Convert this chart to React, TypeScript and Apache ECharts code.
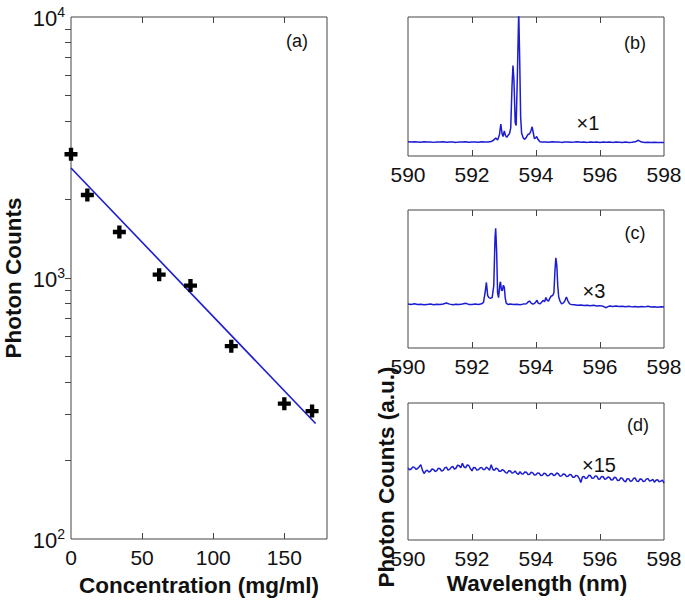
import React, { useEffect, useRef } from "react";
import * as echarts from "echarts";

// ---- Panel (a): photon counts vs concentration ----
const concentration = [0, 11.5, 34, 62, 84, 112.7, 150, 169.5];
const photonCounts = [2980, 2080, 1500, 1030, 935, 548, 330, 309];
const fitLine = [
  [0, 2640],
  [172, 277],
];
const xTicksA = [0, 50, 100, 150];
const yMinorTicksA = [200, 300, 400, 500, 600, 700, 800, 900, 1000, 2000, 3000, 4000, 5000, 6000, 7000, 8000, 9000];

// ---- Panels (b)-(d): spectra [wavelength nm, relative counts] ----
const spectrumB = [
  [590.0, 10.2], [590.1, 10.0], [590.2, 10.3], [590.3, 10.1], [590.4, 9.9], [590.5, 10.2], [590.6, 10.0],
  [590.7, 10.1], [590.8, 9.8], [590.9, 10.1], [591.0, 10.0], [591.1, 10.2], [591.2, 9.9], [591.3, 10.1],
  [591.4, 10.0], [591.5, 9.8], [591.6, 10.1], [591.7, 10.0], [591.8, 10.2], [591.9, 9.9], [592.0, 10.0],
  [592.1, 10.1], [592.2, 9.9], [592.3, 10.2], [592.4, 10.0], [592.5, 10.1], [592.6, 10.4], [592.68, 11.5],
  [592.74, 13.0], [592.8, 11.5], [592.86, 15.5], [592.9, 23.0], [592.94, 16.0], [592.97, 14.0],
  [593.01, 18.0], [593.05, 14.5], [593.09, 13.5], [593.13, 15.0], [593.17, 16.0], [593.21, 20.0],
  [593.25, 50.0], [593.28, 65.0], [593.31, 55.0], [593.35, 24.0], [593.38, 22.0], [593.42, 60.0],
  [593.46, 104.0], [593.49, 70.0], [593.52, 28.0], [593.55, 16.5], [593.6, 13.0], [593.65, 12.0],
  [593.7, 13.5], [593.75, 15.5], [593.8, 16.0], [593.84, 18.0], [593.88, 21.0], [593.92, 16.0],
  [593.95, 12.5], [593.99, 13.0], [594.02, 14.0], [594.06, 12.0], [594.12, 10.3], [594.2, 10.0],
  [594.3, 10.1], [594.4, 9.9], [594.5, 10.2], [594.6, 10.0], [594.7, 10.1], [594.8, 9.8], [594.9, 10.0],
  [595.0, 10.1], [595.1, 9.9], [595.2, 10.0], [595.3, 10.2], [595.4, 9.9], [595.5, 10.0], [595.6, 9.8],
  [595.7, 10.1], [595.8, 9.9], [595.9, 10.0], [596.0, 9.8], [596.1, 10.0], [596.2, 9.9], [596.3, 10.1],
  [596.4, 9.8], [596.5, 10.0], [596.6, 9.9], [596.7, 9.7], [596.8, 10.0], [596.9, 9.8], [597.0, 9.9],
  [597.1, 10.2], [597.2, 11.3], [597.3, 10.0], [597.4, 9.8], [597.5, 9.9], [597.6, 9.7], [597.7, 9.9],
  [597.8, 9.8], [597.9, 9.7], [598.0, 9.8],
];

const spectrumC = [
  [590.0, 31.8], [590.1, 31.6], [590.2, 32.0], [590.3, 31.5], [590.4, 31.7], [590.5, 31.3], [590.6, 31.6],
  [590.7, 31.9], [590.8, 31.4], [590.9, 31.7], [591.0, 31.5], [591.1, 31.9], [591.2, 32.6], [591.3, 31.8],
  [591.4, 31.4], [591.5, 31.7], [591.6, 31.5], [591.7, 31.9], [591.8, 32.4], [591.9, 31.6], [592.0, 31.5],
  [592.1, 31.8], [592.2, 31.6], [592.3, 32.0], [592.36, 33.0], [592.42, 42.0], [592.45, 47.5],
  [592.49, 38.0], [592.53, 36.5], [592.58, 36.0], [592.63, 36.5], [592.68, 45.0], [592.72, 80.0],
  [592.74, 86.7], [592.77, 70.0], [592.8, 40.0], [592.83, 36.5], [592.87, 46.0], [592.89, 48.0],
  [592.92, 42.0], [592.95, 41.5], [592.98, 45.5], [593.01, 44.0], [593.04, 36.0], [593.07, 32.5],
  [593.12, 31.6], [593.2, 31.8], [593.3, 31.5], [593.4, 31.7], [593.5, 31.4], [593.6, 31.8], [593.7, 32.0],
  [593.76, 33.5], [593.8, 34.0], [593.85, 32.5], [593.9, 31.8], [593.95, 32.2], [594.0, 33.5],
  [594.03, 34.6], [594.07, 32.5], [594.12, 32.0], [594.17, 33.0], [594.22, 34.5], [594.27, 33.5],
  [594.31, 36.6], [594.35, 34.5], [594.39, 34.0], [594.43, 36.0], [594.47, 37.5], [594.52, 38.0],
  [594.56, 40.0], [594.59, 55.0], [594.62, 65.4], [594.65, 60.0], [594.68, 45.0], [594.71, 37.0],
  [594.75, 34.0], [594.8, 32.0], [594.85, 32.5], [594.9, 34.0], [594.95, 37.0], [595.0, 34.0],
  [595.05, 32.0], [595.1, 31.6], [595.2, 31.3], [595.3, 31.0], [595.4, 31.2], [595.5, 30.8], [595.6, 31.0],
  [595.7, 30.6], [595.8, 30.9], [595.9, 30.5], [596.0, 30.7], [596.1, 30.2], [596.18, 29.2], [596.25, 30.0],
  [596.3, 30.4], [596.4, 30.1], [596.5, 30.5], [596.6, 30.0], [596.7, 30.3], [596.8, 29.9], [596.9, 30.2],
  [597.0, 29.8], [597.1, 30.1], [597.2, 29.7], [597.3, 30.0], [597.4, 29.8], [597.5, 30.2], [597.6, 29.7],
  [597.7, 29.9], [597.8, 29.6], [597.9, 29.9], [598.0, 29.7],
];

const spectrumD = [
  [590.0, 52.5], [590.05, 51.2], [590.1, 51.8], [590.15, 53.4], [590.2, 53.0], [590.25, 51.6], [590.3, 52.2],
  [590.35, 53.5], [590.4, 55.0], [590.45, 51.0], [590.5, 48.5], [590.55, 50.2], [590.6, 51.0], [590.65, 49.6],
  [590.7, 50.2], [590.75, 51.8], [590.8, 51.5], [590.85, 50.0], [590.9, 50.6], [590.95, 52.4], [591.0, 52.0],
  [591.05, 50.4], [591.1, 50.8], [591.15, 52.6], [591.2, 53.2], [591.25, 51.0], [591.3, 51.6], [591.35, 53.0],
  [591.4, 53.8], [591.45, 51.8], [591.5, 52.4], [591.55, 54.6], [591.6, 54.2], [591.65, 52.8], [591.7, 56.0],
  [591.75, 53.4], [591.8, 52.6], [591.85, 54.8], [591.9, 54.4], [591.95, 52.0], [592.0, 50.5], [592.05, 53.0],
  [592.1, 52.8], [592.15, 51.0], [592.2, 51.2], [592.25, 52.6], [592.3, 53.0], [592.35, 51.4], [592.4, 51.5],
  [592.45, 53.2], [592.5, 52.2], [592.55, 51.0], [592.6, 55.0], [592.65, 51.6], [592.7, 50.8], [592.75, 52.4],
  [592.8, 51.9], [592.85, 50.2], [592.9, 50.2], [592.95, 51.4], [593.0, 50.6], [593.05, 49.2], [593.1, 48.8],
  [593.15, 50.6], [593.2, 50.4], [593.25, 48.8], [593.3, 49.2], [593.35, 50.4], [593.4, 48.6], [593.45, 48.0],
  [593.5, 49.8], [593.55, 48.4], [593.6, 48.2], [593.65, 49.6], [593.7, 49.5], [593.75, 47.8], [593.8, 48.0],
  [593.85, 49.4], [593.9, 49.0], [593.95, 47.4], [594.0, 47.6], [594.05, 49.0], [594.1, 48.8], [594.15, 47.0],
  [594.2, 47.2], [594.25, 48.8], [594.3, 48.4], [594.35, 46.8], [594.4, 47.0], [594.45, 48.4], [594.5, 48.6],
  [594.55, 47.0], [594.6, 47.4], [594.65, 49.0], [594.7, 48.2], [594.75, 46.6], [594.8, 46.8], [594.85, 48.2],
  [594.9, 48.0], [594.95, 46.4], [595.0, 46.6], [595.05, 47.8], [595.1, 47.6], [595.15, 45.8], [595.2, 45.8],
  [595.25, 47.2], [595.3, 46.8], [595.35, 45.0], [595.4, 42.0], [595.45, 46.0], [595.5, 46.4], [595.55, 44.8],
  [595.6, 45.4], [595.65, 47.2], [595.7, 47.0], [595.75, 45.0], [595.8, 45.2], [595.85, 46.8], [595.9, 46.6],
  [595.95, 44.4], [596.0, 44.6], [596.05, 46.4], [596.1, 46.2], [596.15, 44.2], [596.2, 44.8], [596.25, 46.0],
  [596.3, 45.6], [596.35, 43.8], [596.4, 44.0], [596.45, 45.8], [596.5, 45.4], [596.55, 43.4], [596.6, 43.6],
  [596.65, 45.4], [596.7, 45.0], [596.75, 43.2], [596.8, 42.4], [596.85, 44.8], [596.9, 44.6], [596.95, 42.8],
  [597.0, 43.2], [597.05, 45.0], [597.1, 45.2], [597.15, 43.0], [597.2, 42.6], [597.25, 44.6], [597.3, 44.4],
  [597.35, 42.6], [597.4, 43.0], [597.45, 44.6], [597.5, 44.8], [597.55, 43.0], [597.6, 43.4], [597.65, 44.2],
  [597.7, 42.2], [597.75, 43.6], [597.8, 44.0], [597.85, 42.4], [597.9, 43.0], [597.95, 43.8], [598.0, 41.5],
];

const FONT = "'Liberation Sans', Arial, sans-serif";
const BLUE = "#1c1cd2";
const BOX = "#444444";
const TEXT = "#111111";

const PLUS = "path://M4,0H8V4H12V8H8V12H4V8H0V4H4Z";

export default function App() {
  const ref = useRef<HTMLDivElement>(null);

  useEffect(() => {
    if (!ref.current) return;
    const chart = echarts.init(ref.current, null, { renderer: "svg" });

    const grids = [
      { left: 71, top: 17, width: 256, height: 522 },
      { left: 408, top: 17, width: 256, height: 139 },
      { left: 408, top: 210, width: 256, height: 138 },
      { left: 408, top: 403, width: 256, height: 137 },
    ].map((g) => ({ ...g, show: true, borderColor: BOX, borderWidth: 1, backgroundColor: "transparent" }));

    const tickStyle = { lineStyle: { color: BOX, width: 1 } };

    const xAxes: any[] = [
      {
        gridIndex: 0,
        type: "value",
        min: 0,
        max: 180,
        interval: 50,
        position: "bottom",
        axisLine: { show: false },
        splitLine: { show: false },
        axisTick: { show: true, inside: true, length: 6, customValues: [50, 100, 150], ...tickStyle },
        axisLabel: { customValues: xTicksA, fontSize: 21, fontFamily: FONT, color: TEXT, margin: 8 },
      },
      {
        gridIndex: 0,
        type: "value",
        min: 0,
        max: 180,
        interval: 50,
        position: "top",
        axisLine: { show: false },
        splitLine: { show: false },
        axisTick: { show: true, inside: true, length: 6, customValues: [50, 100, 150], ...tickStyle },
        axisLabel: { show: false },
      },
    ];
    const yAxes: any[] = [
      {
        gridIndex: 0,
        type: "log",
        logBase: 10,
        min: 100,
        max: 10000,
        position: "left",
        axisLine: { show: false },
        splitLine: { show: false },
        axisTick: { show: false },
        minorTick: { show: false },
        axisLabel: {
          margin: 6,
          formatter: (v: number) => "{b|10}{s|" + Math.round(Math.log10(v)) + "}",
          rich: {
            b: { fontSize: 22, fontFamily: FONT, color: TEXT, lineHeight: 24, verticalAlign: "bottom" },
            s: { fontSize: 14, fontFamily: FONT, color: TEXT, lineHeight: 14, verticalAlign: "top" },
          },
        },
      },
      {
        gridIndex: 0,
        type: "log",
        logBase: 10,
        min: 100,
        max: 10000,
        position: "right",
        axisLine: { show: false },
        splitLine: { show: false },
        axisTick: { show: true, inside: true, length: 6, customValues: yMinorTicksA, ...tickStyle },
        axisLabel: { show: false },
      },
    ];

    for (let i = 1; i <= 3; i++) {
      xAxes.push({
        gridIndex: i,
        type: "value",
        min: 590,
        max: 598,
        interval: 2,
        position: "bottom",
        axisLine: { show: false },
        splitLine: { show: false },
        axisTick: { show: true, inside: true, length: 6, customValues: [592, 594, 596], ...tickStyle },
        axisLabel: { fontSize: 21, fontFamily: FONT, color: TEXT, margin: 8 },
      });
      xAxes.push({
        gridIndex: i,
        type: "value",
        min: 590,
        max: 598,
        interval: 2,
        position: "top",
        axisLine: { show: false },
        splitLine: { show: false },
        axisTick: { show: true, inside: true, length: 6, customValues: [592, 594, 596], ...tickStyle },
        axisLabel: { show: false },
      });
      yAxes.push({
        gridIndex: i,
        type: "value",
        min: 0,
        max: 100,
        axisLine: { show: false },
        splitLine: { show: false },
        axisTick: { show: false },
        axisLabel: { show: false },
      });
    }

    const spectra = [spectrumB, spectrumC, spectrumD];

    const series: any[] = [
      {
        type: "line",
        xAxisIndex: 0,
        yAxisIndex: 0,
        data: fitLine,
        showSymbol: false,
        symbol: "none",
        lineStyle: { color: BLUE, width: 1.6 },
        z: 2,
      },
      {
        type: "scatter",
        xAxisIndex: 0,
        yAxisIndex: 0,
        data: concentration.map((c, i) => [c, photonCounts[i]]),
        symbol: PLUS,
        symbolSize: 13,
        itemStyle: { color: "#000000", opacity: 1 },
        z: 3,
      },
      ...spectra.map((d, i) => ({
        type: "line",
        xAxisIndex: 2 + i * 2,
        yAxisIndex: 2 + i,
        data: d,
        showSymbol: false,
        symbol: "none",
        clip: true,
        lineStyle: { color: BLUE, width: 1.5 },
      })),
    ];

    const t = (text: string, x: number, y: number, size: number, bold = false, rotate = 0, align = "center") => ({
      type: "text",
      x,
      y,
      rotation: rotate,
      style: {
        text,
        fill: TEXT,
        font: `${bold ? "bold " : ""}${size}px ${FONT}`,
        textAlign: align,
        textVerticalAlign: "middle",
      },
    });

    const graphic = [
      t("(a)", 297, 41, 18),
      t("(b)", 635, 43, 18),
      t("×1", 588, 123, 20),
      t("(c)", 635, 233, 18),
      t("×3", 594, 291, 20),
      t("(d)", 638, 425, 18),
      t("×15", 599, 465, 20),
      t("Concentration (mg/ml)", 199, 585, 22.5, true),
      t("Photon Counts", 13, 278, 22.5, true, Math.PI / 2),
      t("Photon Counts (a.u.)", 386, 477, 22.5, true, Math.PI / 2),
      t("Wavelength (nm)", 537, 583, 22.5, true),
    ];

    chart.setOption({
      animation: false,
      backgroundColor: "#ffffff",
      grid: grids,
      xAxis: xAxes,
      yAxis: yAxes,
      series,
      graphic,
    });

    return () => chart.dispose();
  }, []);

  return (
    <div
      ref={ref}
      style={{ position: "fixed", left: 0, top: 0, width: 685, height: 600, background: "#fff" }}
    />
  );
}
